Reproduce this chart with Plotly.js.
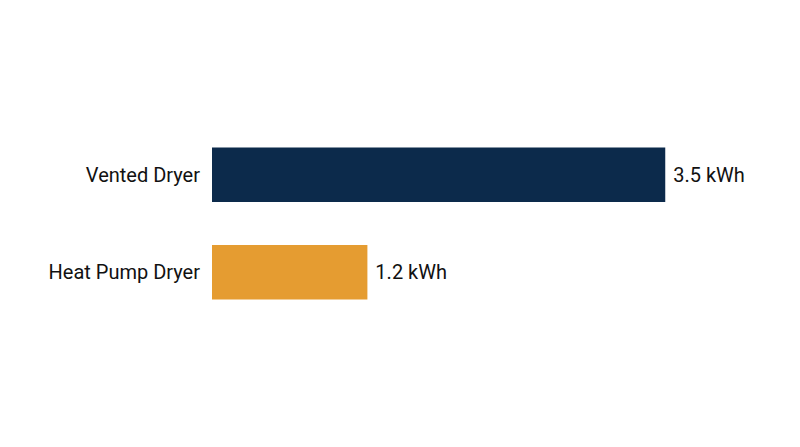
<!DOCTYPE html>
<html>
<head>
<meta charset="utf-8">
<script src="https://cdn.plot.ly/plotly-3.0.1.min.js"></script>
<style>
  html, body { margin: 0; padding: 0; background: #fff; }
  #chart { width: 800px; height: 447px; }
</style>
</head>
<body>
<div id="chart"></div>
<script>
var dryers = ["Vented Dryer", "Heat Pump Dryer"];
var energyKwh = [3.5, 1.2];
var barColors = ["#0c2a4b", "#e59c31"];

var trace = {
    type: "bar",
    orientation: "h",
    y: dryers,
    x: energyKwh,
    marker: { color: barColors },
    // nbsp keeps a small gap between bar end and its label
    text: energyKwh.map(function (v) { return "\u00a0" + v.toFixed(1) + " kWh"; }),
    textposition: "outside",
    textfont: { family: "Roboto", size: 20, color: "#111111" },
    cliponaxis: false,
    hoverinfo: "none"
};

var layout = {
    width: 800,
    height: 447,
    margin: { l: 212, r: 70, t: 126, b: 126 },
    paper_bgcolor: "#ffffff",
    plot_bgcolor: "#ffffff",
    showlegend: false,
    bargap: 0.44,
    font: { family: "Roboto", size: 20, color: "#111111" },
    xaxis: {
        range: [0, 4],
        visible: false,
        showgrid: false,
        zeroline: false
    },
    yaxis: {
        type: "category",
        categoryorder: "array",
        categoryarray: dryers,
        autorange: "reversed",
        showgrid: false,
        zeroline: false,
        showline: false,
        ticks: "outside",
        ticklen: 7,
        tickcolor: "rgba(0,0,0,0)",
        tickfont: { family: "Roboto", size: 20, color: "#111111" }
    }
};

Plotly.newPlot("chart", [trace], layout, { displayModeBar: false, staticPlot: true });
</script>
</body>
</html>
